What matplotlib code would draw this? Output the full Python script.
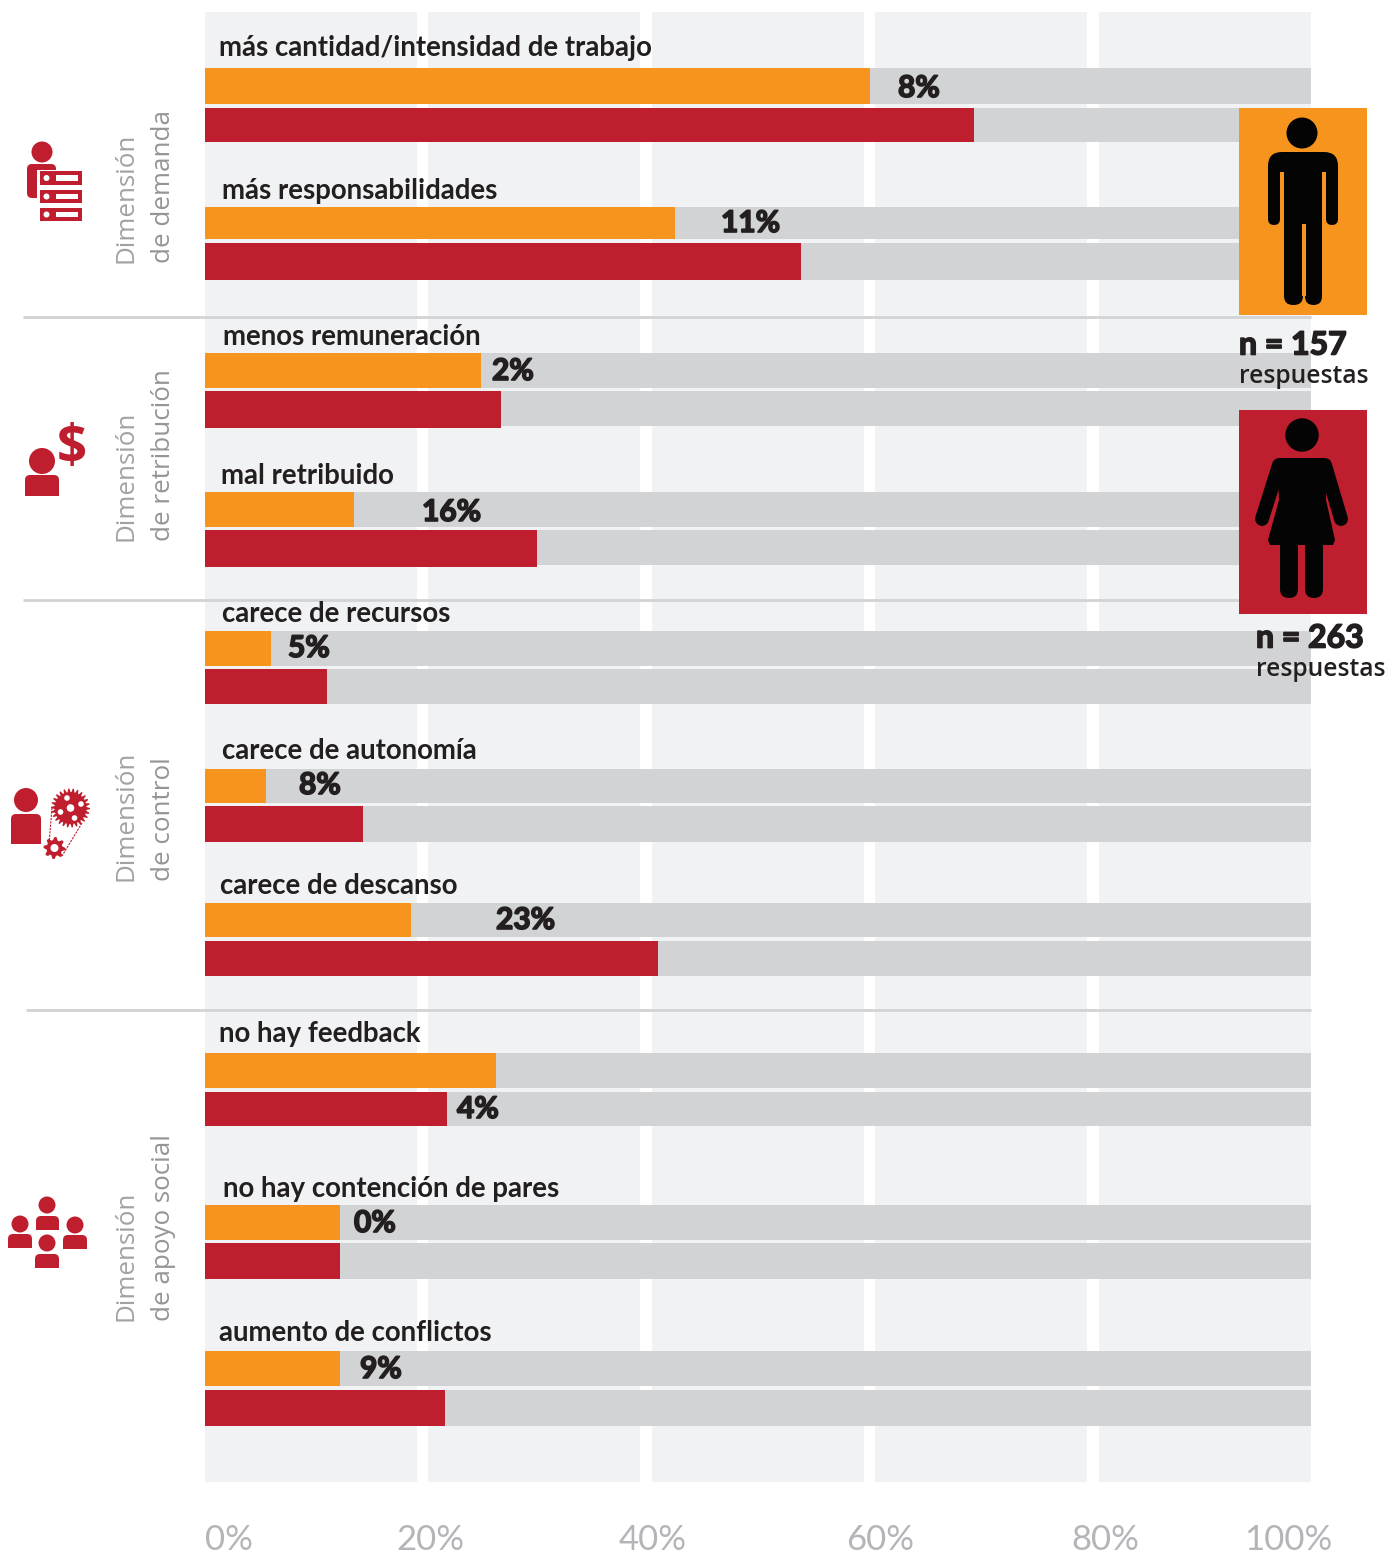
import numpy as np
import matplotlib
matplotlib.use("Agg")
import matplotlib.pyplot as plt
import matplotlib.patheffects as pe
from matplotlib.patches import Circle, FancyBboxPatch, Polygon, Rectangle

W, H = 1391, 1557
X0, X100 = 205.0, 1311.0

categories = ["más cantidad/intensidad de trabajo", "más responsabilidades", "menos remuneración",
              "mal retribuido", "carece de recursos", "carece de autonomía", "carece de descanso",
              "no hay feedback", "no hay contención de pares", "aumento de conflictos"]
hombres = [60.1, 42.5, 25.0, 13.5, 6.0, 5.5, 18.6, 26.3, 12.2, 12.2]
mujeres = [69.5, 53.9, 26.8, 30.0, 11.0, 14.3, 41.0, 21.9, 12.2, 21.7]
diferencia = ["8%", "11%", "2%", "16%", "5%", "8%", "23%", "4%", "0%", "9%"]
ticks = [0, 20, 40, 60, 80, 100]
tick_labels = ["0%", "20%", "40%", "60%", "80%", "100%"]
dimensiones = [("Dimensión", "de demanda"), ("Dimensión", "de retribución"),
               ("Dimensión", "de control"), ("Dimensión", "de apoyo social")]

# layout (pixels)
panels_px = [(205, 417), (428, 640), (652, 864), (875, 1087), (1099, 1311)]
or_rows = [(68, 104), (207, 239), (353, 388), (492, 527), (631, 666), (769, 803), (903, 937), (1053, 1088), (1205, 1240), (1351, 1386)]
re_rows = [(108, 142), (243, 280), (391, 428), (530, 567), (669, 704), (806, 842), (941, 976), (1092, 1126), (1243, 1279), (1390, 1426)]
label_pos = [(219, 48), (222, 191), (223, 337), (221, 476), (222, 614), (222, 751), (220, 886), (219, 1034), (223, 1189), (219, 1333)]
value_pos = [(898, 88), (721, 223), (492, 371), (422, 512), (288, 648), (299, 785), (496, 920), (457, 1109), (354, 1223), (360, 1369)]
tick_centres = [229, 430, 653, 880, 1105, 1288]
dim_bottom = [263, 541, 881, 1321]

ORANGE, RED, TRACK, PANEL = "#f7941d", "#be1e2d", "#d1d3d4", "#f1f2f4"
INK = "#231f20"
LABEL_FONT = ["Lato", "DejaVu Sans"]
DIM_FONT = ["Open Sans", "DejaVu Sans"]
HEAVY_FONT = ["Lato", "DejaVu Sans"]
HEAVY = [pe.withStroke(linewidth=1.2, foreground=INK)]

fig = plt.figure(figsize=(W / 100, H / 100), dpi=100, facecolor="white")
ax = fig.add_axes([0, 0, 1, 1])
sc = (X100 - X0) / 100
ax.set_xlim(-X0 / sc, (W - X0) / sc)
ax.set_ylim(H, 0)
ax.axis("off")

# vertical panels between gridlines
for a, b in panels_px:
    ax.barh((12 + 1482) / 2, (b - a) / sc, left=(a - X0) / sc, height=1470, color=PANEL, lw=0, zorder=1)

for i, cat in enumerate(categories):
    for rows, val, col in ((or_rows, hombres[i], ORANGE), (re_rows, mujeres[i], RED)):
        t, b = rows[i]
        track_b = b - 2 if rows is re_rows and i in (2, 3) else b
        ax.barh((t + track_b) / 2, 100, height=track_b - t, color=TRACK, lw=0, zorder=2)
        ax.barh((t + b) / 2, val, height=b - t, color=col, lw=0, zorder=3)

# overlay in pixels
ov = fig.add_axes([0, 0, 1, 1], zorder=5)
ov.set_xlim(0, W)
ov.set_ylim(H, 0)
ov.axis("off")
ov.patch.set_alpha(0)

for y, x0 in ((317, 23), (600, 23), (1010, 26)):
    ov.plot([x0, X100], [y, y], color=TRACK, lw=2, solid_capstyle="butt", zorder=1)

for cat, (x, y) in zip(categories, label_pos):
    ov.text(x, y, cat, fontsize=19.9, fontweight="bold", family=LABEL_FONT, color=INK, va="center", ha="left")
for v, (x, y) in zip(diferencia, value_pos):
    ov.text(x, y, v, fontsize=21.5, fontweight="bold", family=HEAVY_FONT, color=INK, va="center", ha="left",
            path_effects=HEAVY)
for lab, xc in zip(tick_labels, tick_centres):
    ov.text(xc, 1550.5, lab, fontsize=25, family=LABEL_FONT, color="#b3b5b8", va="baseline", ha="center")
for (a, b), yb in zip(dimensiones, dim_bottom):
    ov.text(126, yb, a, fontsize=18.7, family=DIM_FONT, color="#a0a2a5", rotation=90, va="bottom", ha="center")
    ov.text(163, yb, b, fontsize=18.7, family=DIM_FONT, color="#939598", rotation=90, va="bottom", ha="center")


def rrect(x0, y0, x1, y1, r, c, z=3):
    ov.add_patch(FancyBboxPatch((x0 + r, y0 + r), x1 - x0 - 2 * r, y1 - y0 - 2 * r,
                                boxstyle=f"round,pad={r},rounding_size={r}", fc=c, ec="none", zorder=z))


def rect(x0, y0, x1, y1, c, z=3):
    ov.add_patch(Rectangle((x0, y0), x1 - x0, y1 - y0, fc=c, ec="none", zorder=z))


def circ(x, y, r, c, z=3):
    ov.add_patch(Circle((x, y), r, fc=c, ec="none", zorder=z))


def person(x, y, r, bx0, by0, bx1, by1, c=RED, z=3):
    circ(x, y, r, c, z)
    rrect(bx0, by0, bx1, by1, 5, c, z)
    rect(bx0, by0 + 6, bx1, by1, c, z)


def gear(x, y, r_in, r_out, n, c=RED, z=3):
    ang = np.linspace(0, 2 * np.pi, 4 * n, endpoint=False)
    rad = np.where(np.arange(4 * n) % 4 < 2, r_out, r_in)
    ov.add_patch(Polygon(np.c_[x + rad * np.cos(ang), y + rad * np.sin(ang)], fc=c, ec="none", zorder=z))


# man panel
rect(1239, 108, 1367, 315, ORANGE, 4)
K = "#040404"
circ(1302, 133, 15.5, K, 5)
rrect(1268, 152, 1338, 200, 14, K, 5)
rect(1280, 172, 1284, 230, ORANGE, 6)
rect(1322, 172, 1326, 230, ORANGE, 6)
rect(1268, 185, 1280, 219, K, 5)
rect(1326, 185, 1338, 219, K, 5)
rrect(1268, 205, 1280, 225, 6, K, 5)
rrect(1326, 205, 1338, 225, 6, K, 5)
rect(1284, 170, 1322, 230, K, 5)
rrect(1284, 220, 1303, 305, 9, K, 5)
rrect(1305, 220, 1322, 305, 8.5, K, 5)
rect(1284, 220, 1303, 240, K, 5)
rect(1305, 220, 1322, 240, K, 5)
rect(1302, 224, 1305.5, 296, ORANGE, 6)
ov.text(1239, 345, "n = 157", fontsize=23, fontweight="bold", family=HEAVY_FONT, color=INK, va="center", zorder=7,
        path_effects=HEAVY)
ov.text(1239, 376, "respuestas", fontsize=17.7, fontweight=600, family=DIM_FONT, color=INK, va="center", zorder=7)

# woman panel
rect(1239, 410, 1367, 614, RED, 4)
circ(1302, 435, 16.7, K, 5)
ov.add_patch(Polygon([(1277, 460), (1280, 458), (1324, 458), (1327, 460), (1326, 500), (1335, 540), (1333, 545),
                      (1270, 545), (1268, 540), (1279, 500)], fc=K, ec="none", zorder=5))
ov.plot([1279, 1262], [465, 519], color=K, lw=10, solid_capstyle="round", zorder=5)
ov.plot([1325, 1341], [465, 519], color=K, lw=10, solid_capstyle="round", zorder=5)
rrect(1280, 535, 1298, 598, 9, K, 5)
rrect(1305, 535, 1323, 598, 9, K, 5)
rect(1280, 535, 1298, 550, K, 5)
rect(1305, 535, 1323, 550, K, 5)
ov.text(1256, 638, "n = 263", fontsize=23, fontweight="bold", family=HEAVY_FONT, color=INK, va="center", zorder=7,
        path_effects=HEAVY)
ov.text(1256, 669, "respuestas", fontsize=17.7, fontweight=600, family=DIM_FONT, color=INK, va="center", zorder=7)

# icon: demand
circ(42, 152, 10.5, RED)
rrect(27, 164, 56, 198, 5, RED)
rect(37, 170, 60, 200, "white")
for y0, y1 in ((171, 185), (190, 203), (208, 221)):
    rect(40, y0, 82, y1, RED)
    circ(46.5, (y0 + y1) / 2, 3, "white", 4)
    rect(56, y0 + 4, 78, y1 - 4, "white", 4)
rect(37, 185, 40, 190, "white")

# icon: pay
person(42, 461, 13, 25, 475, 59, 496)
ov.text(72, 449, "$", fontsize=38, fontweight="bold", family=DIM_FONT, color=RED, ha="center", va="center")

# icon: control
person(26, 800, 12, 11, 814, 41, 844)
gear(70.5, 808, 16, 19.5, 26)
for dx, dy, r in ((0, 0, 3.8), (-3.5, -10, 2.8), (10.5, -4, 2.8), (-10, 4, 2.8), (4, 10, 2.8)):
    circ(70.5 + dx, 808 + dy, r, "white", 4)
gear(54.5, 848, 8, 11, 8)
circ(54.5, 848, 4, "white", 4)
ov.plot([52, 48], [808, 856], color=RED, lw=0.8, ls=(0, (2, 1)))
ov.plot([82, 62], [823, 856], color=RED, lw=0.8, ls=(0, (2, 1)))

# icon: social
for x, y, a, b, c, d in ((47, 1205, 36, 1216, 59, 1230), (20, 1224, 8, 1234, 32, 1248),
                         (75, 1225, 63, 1235, 87, 1249), (47, 1243, 35, 1254, 59, 1268)):
    person(x, y, 8.5, a, b, c, d)

fig.savefig("out.png", dpi=100, facecolor="white")
